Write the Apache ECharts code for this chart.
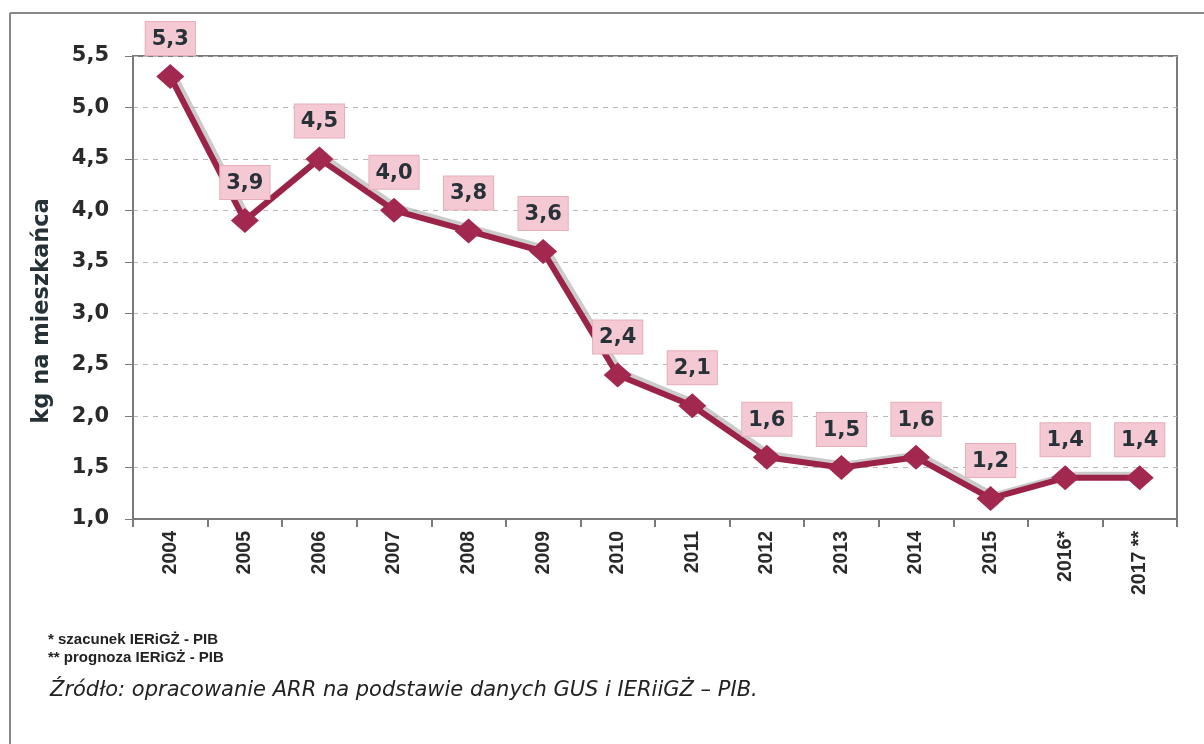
<!DOCTYPE html>
<html><head><meta charset="utf-8">
<script src="https://cdn.jsdelivr.net/npm/echarts@6/dist/echarts.min.js"></script>
<style>html,body{margin:0;padding:0;background:#fff}#c{width:1204px;height:744px}</style>
</head><body><div id="c"></div>
<script>
var categories = ['2004','2005','2006','2007','2008','2009','2010','2011','2012','2013','2014','2015','2016*','2017 **'];
var values = [5.3,3.9,4.5,4.0,3.8,3.6,2.4,2.1,1.6,1.5,1.6,1.2,1.4,1.4];
var yAxisName = 'kg na mieszkańca';
var notes = ['* szacunek IERiGŻ - PIB','** prognoza IERiGŻ - PIB'];
var source = 'Źródło: opracowanie ARR na podstawie danych GUS i IERiiGŻ – PIB.';
function fmt(v){return Number(v).toFixed(1).replace('.',',');}
var chart = echarts.init(document.getElementById('c'));
chart.setOption({
  backgroundColor:'#fff',
  animation:false,
  grid:{left:133,top:56,right:27,bottom:225,show:true,borderColor:'#7a7a7a',borderWidth:2,backgroundColor:'transparent'},
  xAxis:{type:'category',data:categories,boundaryGap:true,
    axisLine:{lineStyle:{color:'#7a7a7a',width:2}},
    axisTick:{show:true,length:8,lineStyle:{color:'#7a7a7a',width:2}},
    axisLabel:{rotate:90,margin:12,fontFamily:'Liberation Sans, Arial',fontWeight:'bold',fontSize:19.5,color:'#2a2a2a'}},
  yAxis:{type:'value',min:1,max:5.5,interval:0.5,
    axisLine:{show:true,lineStyle:{color:'#7a7a7a',width:2}},
    axisTick:{show:true,length:8,lineStyle:{color:'#7a7a7a'}},
    axisLabel:{margin:24,formatter:fmt,fontFamily:'DejaVu Sans',fontWeight:'bold',fontSize:21,color:'#2a2a2a'},
    splitLine:{show:true,lineStyle:{color:'#b8b8b8',type:[5,5],width:1}}},
  series:[{type:'line',data:values,symbol:'diamond',symbolSize:[28,25],
    lineStyle:{color:'#9b2347',width:6,shadowColor:'rgba(160,160,160,0.55)',shadowOffsetX:3,shadowOffsetY:-3,shadowBlur:0},
    itemStyle:{color:'#a3284f'},
    label:{show:true,position:'top',distance:9,formatter:function(p){return fmt(p.value);},
      fontFamily:'DejaVu Sans',fontWeight:'bold',fontSize:21,color:'#263238',
      backgroundColor:'#f5c9d3',borderColor:'#e6aebb',borderWidth:1,padding:[7,6,5,6]}
  }],
  graphic:[
    {type:'line',shape:{x1:10,y1:13,x2:1204,y2:13},style:{stroke:'#888',lineWidth:2}},
    {type:'line',shape:{x1:10,y1:13,x2:10,y2:744},style:{stroke:'#888',lineWidth:2}},
    {type:'text',x:42,y:311,rotation:Math.PI/2,style:{text:yAxisName,font:'bold 22.5px "DejaVu Sans"',fill:'#263238',align:'center',verticalAlign:'middle'}},
    {type:'text',left:48,top:632,style:{text:notes[0],font:'bold 15px "Liberation Sans", Arial',fill:'#222'}},
    {type:'text',left:48,top:650,style:{text:notes[1],font:'bold 15px "Liberation Sans", Arial',fill:'#222'}},
    {type:'text',left:50,top:680,style:{text:source,font:'italic 21px "DejaVu Sans"',fill:'#222'}}
  ]
});
</script></body></html>
